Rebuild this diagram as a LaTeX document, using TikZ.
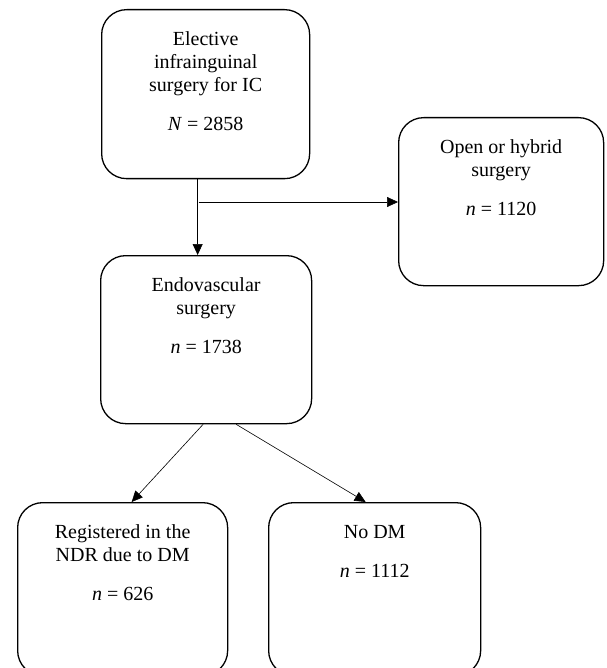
\documentclass[tikz,border=0pt]{standalone}
\usepackage{fontspec}
\setmainfont{Liberation Serif}
\usetikzlibrary{arrows.meta}
\newcommand{\boxtxt}[3]{\parbox[t][#2][t]{#1}{\centering\vspace*{21pt}\rule{0pt}{15pt}#3}}

\begin{document}
\begin{tikzpicture}[x=1pt,y=-1pt,
	box/.style={draw, line width=1.3pt, rounded corners=25pt, inner sep=0pt,
		anchor=north west, font=\fontsize{20}{23}\selectfont},
	arr/.style={-{Triangle[length=11pt,width=10pt]}, line width=0.6pt}]
	% Page frame
	\useasboundingbox (0,0) rectangle (606,668);
	\clip (0,0) rectangle (606,668);
	% Draw the boxes
	\node (top) [box] at (101,9) {\boxtxt{208pt}{169pt}{Elective\\ infrainguinal\\ surgery for IC\\[16pt] \textit{N} = 2858}};
	\node (open) [box] at (398,117) {\boxtxt{205pt}{168pt}{Open or hybrid\\ surgery\\[16pt] \textit{n} = 1120}};
	\node (endo) [box] at (100,255) {\boxtxt{211pt}{168pt}{Endovascular\\ surgery\\[16pt] \textit{n} = 1738}};
	\node (ndr) [box] at (17,502) {\boxtxt{210pt}{173pt}{Registered in the\\ NDR due to DM\\[16pt] \textit{n} = 626}};
	\node (nodm) [box] at (268,502) {\boxtxt{212pt}{173pt}{No DM\\[16pt] \textit{n} = 1112}};
	% Draw the arrows
	\draw [arr] ([xshift=-8pt]top.south) -- ([xshift=-8pt]top.south |- endo.north);
	\coordinate (split) at ([xshift=-7pt]top.south |- 0,202);
	\draw [arr] (split) -- (split -| open.west);
	\draw [arr] ([xshift=-3pt]endo.south) -- ([xshift=9pt]ndr.north);
	\draw [arr] ([xshift=30pt]endo.south) -- ([xshift=-9pt]nodm.north);
\end{tikzpicture}
\end{document}
